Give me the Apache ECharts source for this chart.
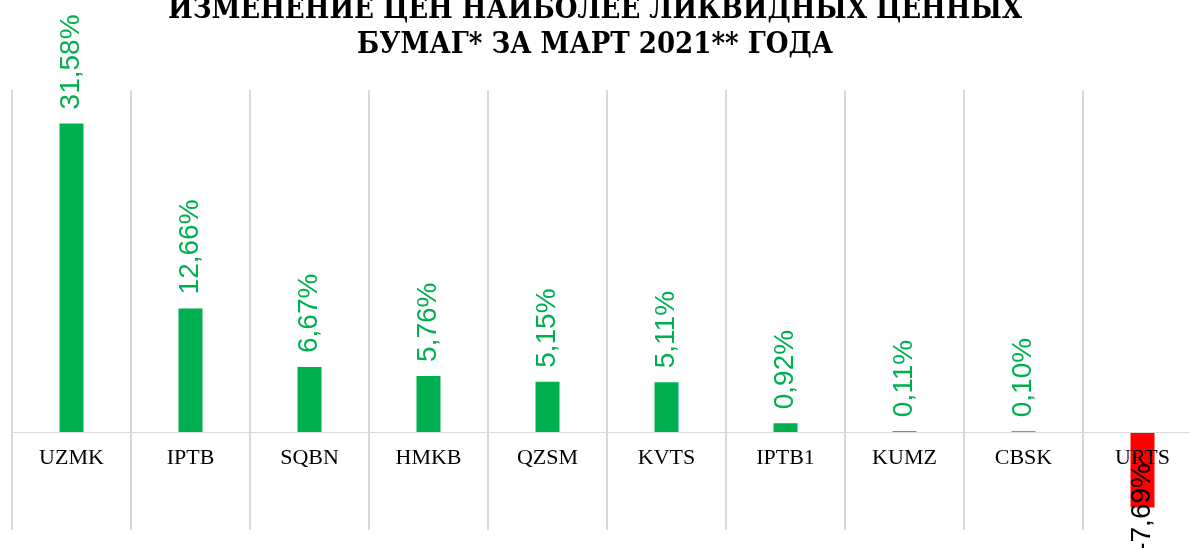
<!DOCTYPE html>
<html>
<head>
<meta charset="utf-8">
<title>Изменение цен</title>
<script src="https://cdn.jsdelivr.net/npm/echarts@6/dist/echarts.min.js"></script>
<style>
  html, body { margin: 0; padding: 0; background: #fff; }
  #chart { width: 1190px; height: 548px; }
</style>
</head>
<body>
<div id="chart"></div>
<script>
const titleText = 'ИЗМЕНЕНИЕ ЦЕН НАИБОЛЕЕ ЛИКВИДНЫХ ЦЕННЫХ\nБУМАГ* ЗА МАРТ 2021** ГОДА';
const tickers = ['UZMK', 'IPTB', 'SQBN', 'HMKB', 'QZSM', 'KVTS', 'IPTB1', 'KUMZ', 'CBSK', 'URTS'];
const changes = [31.58, 12.66, 6.67, 5.76, 5.15, 5.11, 0.92, 0.11, 0.10, -7.69];

const green = '#00b050';
const red = '#ff0000';

const chart = echarts.init(document.getElementById('chart'));

// подпись: запятая вместо точки
const fmt = v => v.toFixed(2).replace('.', ',') + '%';

const barData = changes.map(v => {
  if (v >= 0) {
    return { value: v, itemStyle: { color: green } };
  }
  return {
    value: v,
    itemStyle: { color: red },
    label: {
      position: 'bottom',
      distance: 0,
      align: 'center',
      color: '#000',
    },
  };
});

chart.setOption({
  animation: false,
  title: {
    text: titleText,
    left: 'center',
    top: -12,
    textStyle: {
      fontFamily: 'DejaVu Serif Condensed',
      fontWeight: 'bold',
      fontSize: 29,
      lineHeight: 35,
      color: '#000',
    },
  },
  grid: { left: 12, top: 90, width: 1190, bottom: 18, outerBoundsMode: 'none', containLabel: false },
  xAxis: {
    type: 'category',
    data: tickers,
    z: 3,
    axisLine: { onZero: true, lineStyle: { color: '#d9d9d9', width: 1 } },
    axisTick: { show: false },
    axisLabel: {
      // подписи стоят у нижнего края сетки, поднимаем к нулевой линии
      margin: -83,
      fontFamily: 'Liberation Serif',
      fontSize: 22,
      color: '#000',
    },
    splitLine: { show: true, lineStyle: { color: '#d9d9d9', width: 2 } },
  },
  yAxis: {
    type: 'value',
    min: -10,
    max: 35,
    show: false,
    splitLine: { show: false },
  },
  series: [
    {
      type: 'bar',
      data: barData,
      barWidth: 24,
      label: {
        show: true,
        position: 'top',
        rotate: 90,
        align: 'left',
        verticalAlign: 'middle',
        distance: 14,
        fontFamily: 'Liberation Sans',
        fontSize: 28,
        color: green,
        formatter: p => fmt(p.value),
      },
    },
  ],
});
</script>
</body>
</html>
